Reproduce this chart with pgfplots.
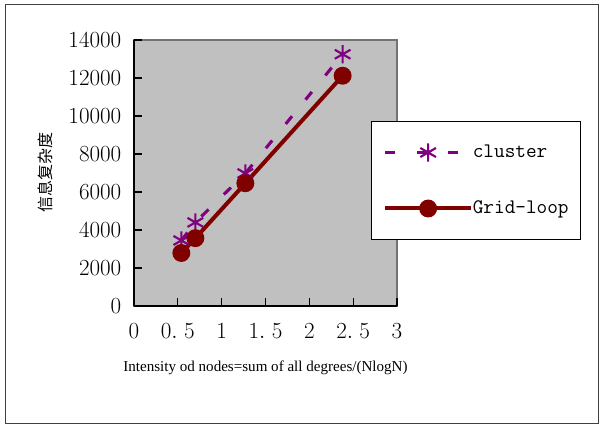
\documentclass[border=0pt]{standalone}
\usepackage[no-math]{fontspec}
\setmainfont{Liberation Serif}
\newfontfamily\cjk{Noto Sans CJK SC}
\usepackage{pgfplots}
\pgfplotsset{compat=1.18}
\definecolor{cpurple}{HTML}{800080}
\definecolor{cred}{HTML}{800000}
\definecolor{pgray}{HTML}{C0C0C0}
\begin{document}
\begin{tikzpicture}[x=1pt,y=1pt]
\path[use as bounding box] (0,0) rectangle (452.25,321);
\draw[line width=0.75pt, black!75] (3.75,3) rectangle (448.5,317.25);
\begin{axis}[
  at={(100.5pt,91.5pt)}, anchor=south west,
  scale only axis, width=197.25pt, height=199.5pt,
  xmin=0, xmax=3, ymin=0, ymax=14000,
  xtick={0,0.5,1,1.5,2,2.5,3},
  xticklabels={$0$,$0.\;5$,$1$,$1.\;5$,$2$,$2.\;5$,$3$},
  ytick={0,2000,4000,6000,8000,10000,12000,14000},
  scaled y ticks=false,
  yticklabel style={/pgf/number format/1000 sep={}, xshift=-6pt},
  xticklabel style={yshift=-10pt},
  ticklabel style={font=\fontsize{16}{18}\selectfont},
  axis background/.style={fill=pgray, draw=black!55, line width=1.2pt},
  axis x line*=bottom, axis y line*=left,
  axis line style={-, black, line width=1.2pt},
  tick align=inside, major tick length=6pt,
  tick style={black, line width=0.9pt},
  xlabel={Intensity od nodes=sum of all degrees/(NlogN)},
  xlabel style={at={(axis description cs:0.5,-0.233)}, anchor=center, font=\fontsize{11.3}{13}\selectfont},
  ylabel={\cjk 信息复杂度},
  ylabel style={at={(axis description cs:-0.338,0.5)}, anchor=center, font=\fontsize{12}{14}\selectfont},
  clip=false,
  legend cell align=left,
  legend image code/.code={\draw[#1] (0pt,0pt) -- (64pt,0pt); \draw[#1, only marks, solid] plot coordinates {(32pt,0pt)};},
  legend style={at={(axis description cs:0.9011,0.6955)}, anchor=north west,
    draw=black, fill=white, line width=0.75pt,
    font=\ttfamily\fontsize{15.5}{17}\selectfont,
    inner xsep=9pt, inner ysep=16.25pt, row sep=28pt,
    nodes={inner sep=0pt, minimum height=14pt}},
]
\addplot[cpurple, line width=2.3pt, dash pattern=on 7.5pt off 16pt,
  mark=asterisk, mark size=6.8pt, mark options={solid, line width=1.6pt}]
  coordinates {(0.54,3450) (0.70,4400) (1.27,6980) (2.38,13250)};
\addlegendentry{cluster}
\addplot[cred, line width=3pt,
  mark=*, mark size=5.2pt, mark options={solid, fill=cred, draw=cred}]
  coordinates {(0.54,2790) (0.70,3570) (1.27,6460) (2.38,12120)};
\addlegendentry{Grid-loop}
\end{axis}
\end{tikzpicture}
\end{document}
